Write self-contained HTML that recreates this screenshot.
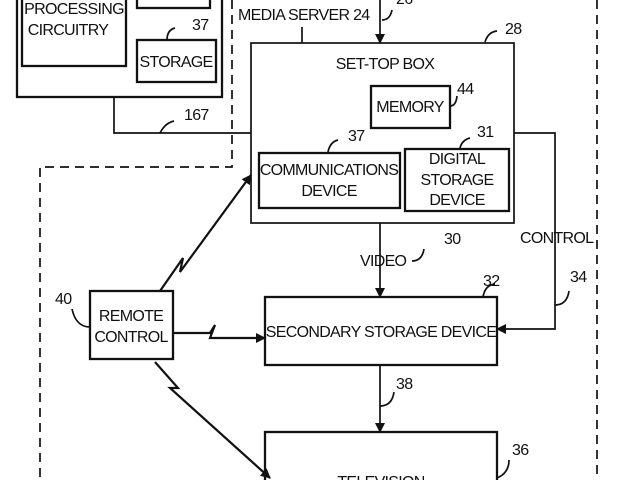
<!DOCTYPE html>
<html><head><style>
body{margin:0;width:640px;height:480px;overflow:hidden;background:#fff}
text{font-family:"Liberation Sans",sans-serif;font-size:16px;fill:#111;letter-spacing:-0.7px}
</style></head><body>
<svg width="640" height="480" viewBox="0 0 640 480" xmlns="http://www.w3.org/2000/svg">
<defs><marker id="a" markerWidth="10" markerHeight="12" refX="9" refY="6" orient="auto" markerUnits="userSpaceOnUse"><path d="M0,1 L10,6 L0,11 Z" fill="#111"/></marker></defs>
<g fill="none" stroke="#111" stroke-width="1.7">
<rect x="17" y="-5" width="205" height="102" stroke-width="2.3"/>
<rect x="22" y="-5" width="104" height="71" stroke-width="2.3"/>
<rect x="137" y="-5" width="73" height="13" stroke-width="2.3"/>
<rect x="137" y="40" width="79" height="42" stroke-width="2.3"/>
<path d="M232 0 V167 H40 V480 M597 0 V480" stroke-dasharray="9,6"/>
<path d="M114 97 V133 H251"/>
<path d="M160 133 q5 -10 14 -12"/>
<path d="M175 28 q-8 2 -8 12"/>
<rect x="251" y="43" width="263" height="180"/>
<rect x="371" y="86" width="79" height="42" stroke-width="2.3"/>
<rect x="259" y="153" width="141" height="55" stroke-width="2.3"/>
<rect x="405" y="149" width="104" height="62" stroke-width="2.3"/>
<path d="M380 0 V43" marker-end="url(#a)"/>
<path d="M302 27 V43"/>
<path d="M382 20 q8 0 10 -10"/>
<path d="M485 42 q3 -10 12 -11"/>
<path d="M450 106 q6 0 7 -10"/>
<path d="M328 152 q2 -10 10 -12"/>
<path d="M460 148 q2 -8 10 -10"/>
<path d="M514 133 H555 V329 H497" marker-end="url(#a)"/>
<path d="M555 305 q12 0 14 -14"/>
<path d="M380 223 V297" marker-end="url(#a)"/>
<path d="M412 261 q10 0 12 -12"/>
<rect x="265" y="297" width="232" height="68" stroke-width="2.3"/>
<path d="M483 297 q2 -12 12 -13"/>
<rect x="90" y="291" width="83" height="68" stroke-width="2.3"/>
<path d="M90 327 q-14 0 -18 -18"/>
<path d="M380 365 V432" marker-end="url(#a)"/>
<path d="M380 406 q12 0 14 -14"/>
<rect x="265" y="432" width="232" height="60" stroke-width="2.3"/>
<path d="M497 478 q12 -5 12 -18"/>
<g stroke-width="2.2">
<path d="M173 333 H210 L215 325 L210 338 H265" marker-end="url(#a)"/>
<path d="M160 291 L183 258 L180 272 L251 175" marker-end="url(#a)"/>
<path d="M155 362 L178 388 L170 388 L270 478" marker-end="url(#a)"/>
</g>
</g>
<text x="74" y="14" text-anchor="middle">PROCESSING</text>
<text x="68" y="35" text-anchor="middle">CIRCUITRY</text>
<text x="176" y="67" text-anchor="middle">STORAGE</text>
<text x="192" y="30">37</text>
<text x="184" y="120">167</text>
<text x="238" y="20">MEDIA SERVER 24</text>
<text x="396" y="4">26</text>
<text x="505" y="34">28</text>
<text x="385" y="69" text-anchor="middle">SET-TOP BOX</text>
<text x="410" y="112" text-anchor="middle">MEMORY</text>
<text x="457" y="94">44</text>
<text x="329" y="175" text-anchor="middle">COMMUNICATIONS</text>
<text x="329" y="196" text-anchor="middle">DEVICE</text>
<text x="348" y="141">37</text>
<text x="457" y="164" text-anchor="middle">DIGITAL</text>
<text x="457" y="185" text-anchor="middle">STORAGE</text>
<text x="457" y="205" text-anchor="middle">DEVICE</text>
<text x="477" y="137">31</text>
<text x="520" y="243">CONTROL</text>
<text x="570" y="282">34</text>
<text x="360" y="266">VIDEO</text>
<text x="444" y="244">30</text>
<text x="483" y="286">32</text>
<text x="381" y="337" text-anchor="middle">SECONDARY STORAGE DEVICE</text>
<text x="131" y="321" text-anchor="middle">REMOTE</text>
<text x="131" y="342" text-anchor="middle">CONTROL</text>
<text x="55" y="304">40</text>
<text x="396" y="389">38</text>
<text x="512" y="455">36</text>
<text x="381" y="487" text-anchor="middle">TELEVISION</text>
</svg>
</body></html>
